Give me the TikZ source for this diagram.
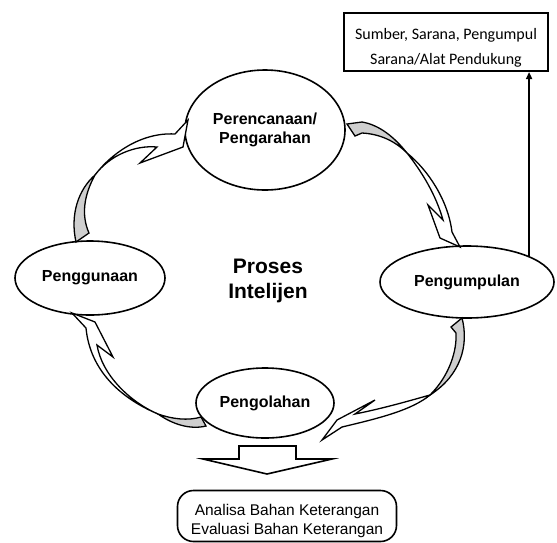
\documentclass[tikz,border=0pt]{standalone}
\usepackage{fontspec}
\setmainfont{Liberation Sans}
\newfontfamily\calfont{Carlito}
\usetikzlibrary{arrows.meta,shapes.geometric}
\definecolor{twistGray}{HTML}{CFCFCF}
\tikzset{
  stage/.style={ellipse,draw,line width=1.6pt,inner sep=0pt,align=center,
    font=\fontsize{16}{18.5}\selectfont\bfseries},
  band/.style={draw,line width=1.3pt,fill=white,line join=miter},
  twist/.style={draw,line width=1.3pt,fill=twistGray,line join=miter},
}

\begin{document}
\begin{tikzpicture}[x=1pt,y=-1pt]
\useasboundingbox (0,0) rectangle (557,542);

% stages of the cycle
\node[stage,minimum width=160pt,minimum height=120pt] (plan) at (265,130) {Perencanaan/\\Pengarahan};
\node[stage,minimum width=174pt,minimum height=72pt] (collect) at (467,282) {Pengumpulan};
\node[stage,minimum width=138pt,minimum height=70pt] (proc) at (265,403) {Pengolahan};
\node[stage,minimum width=150pt,minimum height=74pt] (use) at (90,278) {Penggunaan};
\node[align=center,font=\fontsize{21}{25}\selectfont\bfseries] (title) at (268,281) {Proses\\Intelijen};

% curved arrows, grey part is the back of the band
\draw[twist] (76,242) .. controls (70,215) and (78,190) .. (95,175) .. controls (84,195) and (81,215) .. (89,233) -- cycle;
\draw[band] (95,175) .. controls (110,155) and (140,132) .. (175,134) -- (188,120) -- (183,147) -- (140,163) -- (157,147)
  .. controls (135,145) and (110,155) .. (95,175) -- cycle;

\draw[twist] (347,124) -- (362,122) .. controls (380,125) and (395,138) .. (407,153) .. controls (395,141) and (380,134) .. (362,133) -- (355,136) -- cycle;
\draw[band] (407,153) .. controls (428,170) and (448,200) .. (452,232) -- (460,247) -- (440,238) -- (428,205) -- (443,220)
  .. controls (436,195) and (422,172) .. (407,153) -- cycle;

\draw[twist] (451,327) -- (462,318) .. controls (469,345) and (461,375) .. (430,395) .. controls (450,375) and (457,350) .. (456,333) -- cycle;
\draw[band] (430,395) .. controls (412,410) and (380,418) .. (342,427) -- (322,440) -- (337,420) -- (375,400) -- (355,414)
  .. controls (385,408) and (412,400) .. (430,395) -- cycle;

\draw[twist] (201,417) -- (206,426) .. controls (190,430) and (172,424) .. (158,414) .. controls (172,419) and (188,421) .. (201,417) -- cycle;
\draw[band] (158,414) .. controls (120,398) and (90,370) .. (86,328) -- (72,313) -- (95,322) -- (113,357) -- (97,345)
  .. controls (102,375) and (130,402) .. (158,414) -- cycle;

% resources box
\node[draw,line width=2pt,minimum width=204pt,minimum height=58pt,inner sep=1pt,align=center,
  font=\calfont\fontsize{16}{25}\selectfont] (source) at (446,42)
  {\rule{0pt}{23pt}Sumber, Sarana, Pengumpul\\Sarana/Alat Pendukung};
\draw[line width=1.6pt,-{Triangle[length=7pt,width=6pt]}] (collect.north east) -- (collect.north east |- source.south);

% output of processing
\draw[band,line width=1.6pt] (239,446) -- (296,446) -- (296,459) -- (332,459) -- (267,474) -- (203,459) -- (239,459) -- cycle;
\node[draw,line width=1.6pt,rounded corners=16pt,minimum width=219pt,minimum height=51pt,inner sep=1pt,align=center,
  font=\fontsize{15.5}{19}\selectfont] (result) at (287,516)
  {\rule{0pt}{21pt}Analisa Bahan Keterangan\\Evaluasi Bahan Keterangan};
\end{tikzpicture}
\end{document}
